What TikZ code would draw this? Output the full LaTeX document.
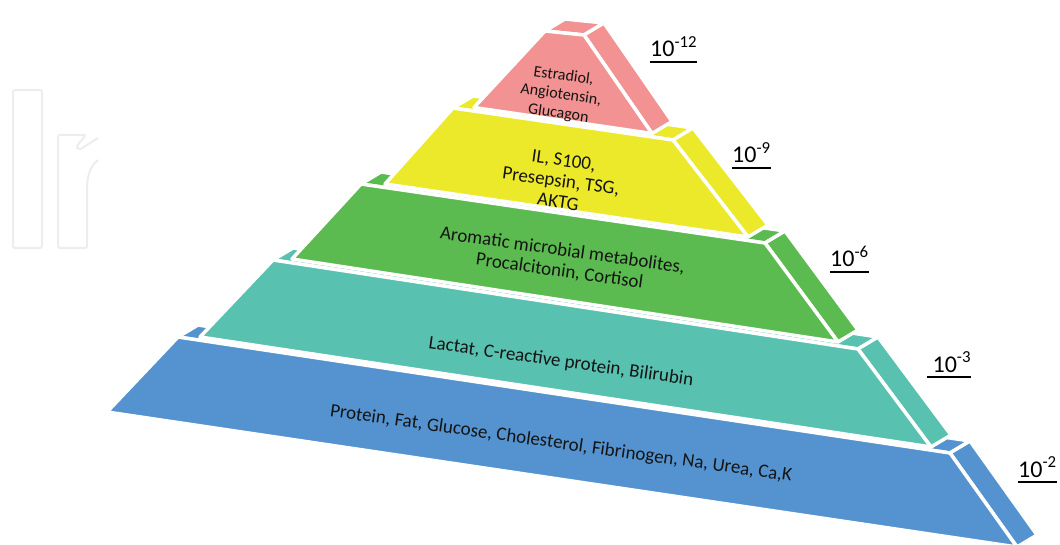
\documentclass[tikz,border=0pt]{standalone}
\usepackage{fontspec}
\setmainfont{Carlito}
\usetikzlibrary{positioning}

\definecolor{pyrpink}{RGB}{242,146,146}
\definecolor{pyryellow}{RGB}{236,233,42}
\definecolor{pyrgreen}{RGB}{92,187,80}
\definecolor{pyrteal}{RGB}{88,193,176}
\definecolor{pyrblue}{RGB}{84,147,207}

\newsavebox{\expbox}
\newcommand{\expunder}[1]{\sbox{\expbox}{#1}\rlap{\rule[-6pt]{\wd\expbox}{2.3pt}}\usebox{\expbox}}

\begin{document}
\begin{tikzpicture}[
    x=1pt, y=-1pt,
    face/.style={draw=white, line width=3.5pt, line join=round},
    layertext/.style={align=center, rotate=-8, text=black!92,
                      font=\fontsize{19}{21}\selectfont},
    exponent/.style={anchor=base west, inner sep=0pt, text=black,
                     font=\fontsize{24}{28}\selectfont},
    watermark/.style={draw=black!7, line width=2pt, rounded corners=2pt},
  ]
  \useasboundingbox (0,0) rectangle (1060,545);
  \clip (0,0) rectangle (1060,545);

  % --- faint watermark, upper left ---
  \draw[watermark] (13,90) rectangle (42,248);
  \draw[watermark] (87,190) -- (87,248) -- (58,248) -- (58,135) -- (86,135)
    -- (76,147) -- (79,150) -- (98,138);
  \draw[watermark] (87,190) .. controls (87,172) and (92,165) .. (98,160);

  % --- layers, bottom to top: top strip, side face, front face ---
  \foreach \clr/\ax/\ay/\bx/\by/\cx/\cy/\ex/\ey in {
      pyrblue/178/337/950/453/1017/547/107/412,
      pyrteal/273/260/858/349/931/447/200/337,
      pyrgreen/361/184/765/243/838/342/292/259,
      pyryellow/453/108/673/140/748/237/385/184,
      pyrpink/545/31/584/35/652/133.5/474/107.5}{
    \filldraw[face, fill=\clr] (\ax,\ay) -- (\ax+20,\ay-12) -- (\bx+20,\by-12) -- (\bx,\by) -- cycle;
    \filldraw[face, fill=\clr] (\bx,\by) -- (\bx+20,\by-12) -- (\cx+20,\cy-12) -- (\cx,\cy) -- cycle;
    \filldraw[face, fill=\clr] (\ax,\ay) -- (\bx,\by) -- (\cx,\cy) -- (\ex,\ey) -- cycle;
  }

  % --- texts on the front faces ---
  \node[layertext, font=\fontsize{16}{19}\selectfont] (pinktext) at (561,95) {Estradiol,\\ Angiotensin,\\ Glucagon};
  \node[layertext] (yellowtext) at (561,181) {IL, S100,\\ Presepsin, TSG,\\ AKTG};
  \node[layertext] (greentext) at (561,261) {Aromatic microbial metabolites,\\ Procalcitonin, Cortisol};
  \node[layertext] (tealtext) at (561,362) {Lactat, C-reactive protein, Bilirubin};
  \node[layertext] (bluetext) at (561,444) {Protein, Fat, Glucose, Cholesterol, Fibrinogen, Na, Urea, Ca,K};

  % --- concentration orders on the right ---
  \node[exponent] (pinkexp) at (650,57) {\expunder{10\textsuperscript{-12}}};
  \node[exponent] (yellowexp) at (732,163) {\expunder{10\textsuperscript{-9}}};
  \node[exponent] (greenexp) at (830,267) {\expunder{10\textsuperscript{-6}}};
  \node[exponent] (tealexp) at (927,372) {\expunder{\ 10\textsuperscript{-3}}};
  \node[exponent] (blueexp) at (1018,477) {\expunder{10\textsuperscript{-2}}};
\end{tikzpicture}
\end{document}
